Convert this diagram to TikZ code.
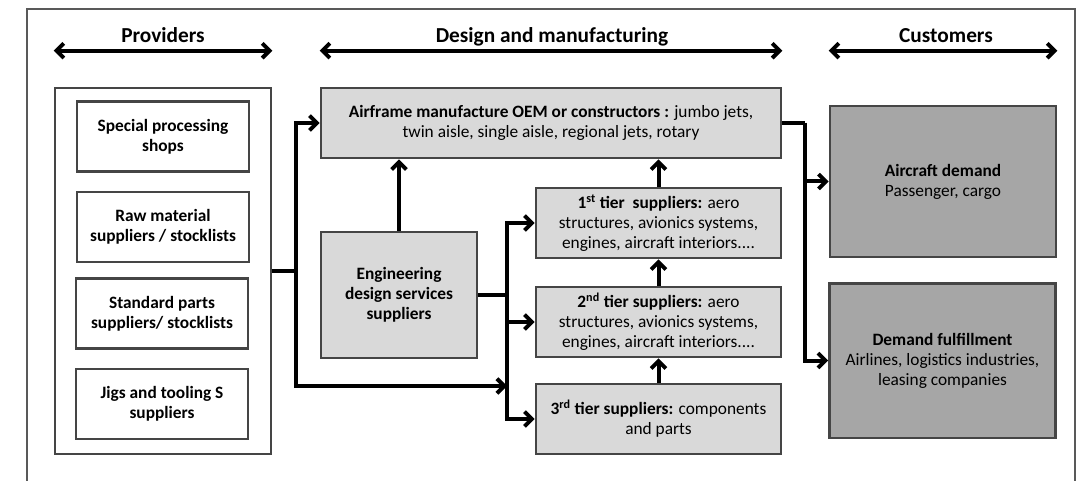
\documentclass[tikz,border=0pt]{standalone}
\usepackage{fontspec}
\setmainfont{Carlito}
\usepackage{tikz}
\usetikzlibrary{positioning}
\usetikzlibrary{arrows.meta}
\definecolor{boxline}{gray}{0.27}
\definecolor{lightbox}{gray}{0.85}
\definecolor{darkbox}{gray}{0.65}
\newcommand{\boxfont}{\fontsize{13}{15}\selectfont}
\tikzstyle{frame}=[draw=black!65,line width=1.5pt]
\tikzstyle{whitebox}=[rectangle,draw=boxline,line width=2pt,fill=white,align=center,font=\boxfont\bfseries,minimum width=129pt,minimum height=52.5pt,inner sep=2pt]
\tikzstyle{greybox}=[rectangle,draw=boxline,line width=2pt,fill=lightbox,align=center,font=\boxfont,minimum height=52.5pt,inner sep=2pt]
\tikzstyle{tierbox}=[greybox,minimum width=183.75pt]
\tikzstyle{custbox}=[greybox,fill=darkbox,minimum width=169.5pt]
\tikzstyle{edge} = [draw,line width=3pt,-{Straight Barb[length=5.5pt,width=11pt]}]
\tikzstyle{link} = [draw,line width=3pt]
\tikzstyle{span} = [draw,line width=3pt,{Straight Barb[length=5.5pt,width=11pt]}-{Straight Barb[length=5.5pt,width=11pt]}]
\tikzstyle{header}=[font=\fontsize{16}{19}\selectfont\bfseries,anchor=base]

\begin{document}
\begin{tikzpicture}[x=0.75pt,y=-0.75pt]

 \useasboundingbox (0,0) rectangle (1089,481);
 \draw[frame] (27,481) -- (27,9) -- (1075,9) -- (1075,481);

 %providers
 \node[rectangle,draw=boxline,line width=2pt,minimum width=162pt,minimum height=274.5pt] (prov) at (163,271) {};

   \foreach \x/\y/\name/\label in {163/136.5/sps/{Special processing\\shops}, 163/227/raw/{Raw material\\suppliers / stocklists},
                                   162/313.5/std/{Standard parts\\suppliers/ stocklists}, 162/404/jig/{Jigs and tooling S\\suppliers}}
          \node[whitebox] (\name) at (\x,\y) {\label};

 %design and manufacturing
 \node[greybox,minimum width=345pt] (oem) at (551,123)
      {\textbf{Airframe manufacture OEM or constructors :} jumbo jets,\\twin aisle, single aisle, regional jets, rotary};
 \node[greybox,font=\boxfont\bfseries,minimum width=117pt,minimum height=94.5pt] (eng) at (399,295)
      {Engineering\\design services\\suppliers};

   \foreach \x/\y/\name/\label in {658.5/223/tier1/{\textbf{1\textsuperscript{st} tier\ \ suppliers:} aero},
                                   658.5/322/tier2/{\textbf{2\textsuperscript{nd} tier suppliers:} aero}}
          \node[tierbox] (\name) at (\x,\y) {\label\\structures, avionics systems,\\engines, aircraft interiors....};
 \node[tierbox] (tier3) at (658.5,419) {\textbf{3\textsuperscript{rd} tier suppliers:} components\\and parts};

 %customers
 \node[custbox,minimum height=113.25pt] (dem) at (943,181.5) {\textbf{Aircraft demand}\\Passenger, cargo};
 \node[custbox,minimum height=116pt] (ful) at (942.5,360.5)
      {\textbf{Demand fulfillment}\\Airlines, logistics industries,\\leasing companies};

 %headers
   \foreach \x/\y/\name/\label in {163/43/hprov/Providers, 552/43/hdes/Design and manufacturing, 946/43/hcus/Customers}
          \node[header] (\name) at (\x,\y) {\label};

 \path[span] ([yshift=27pt]prov.north west) -- ([yshift=27pt]prov.north east);
 \path[span] ([yshift=27pt]oem.north west) -- ([yshift=27pt]oem.north east);
 \path[span] ([yshift=40.5pt]dem.north west) -- ([yshift=40.5pt]dem.north east);

 %connectors
 \coordinate (pj) at (296,271);
 \coordinate (bus) at (507,386);
 \coordinate (ej) at (507,295);
 \coordinate (aj) at (805,123);

 \path[link] (prov.east) -- (pj);
 \path[edge] (pj) |- (oem.west);
 \path[edge] (pj) |- (bus);

 \path[link] (eng.east) -- (ej);
  \foreach \dest in {tier1, tier2, tier3}
         \path[edge] (ej) |- (\dest.west);

 \path[edge] (eng.north) -- (eng.north |- oem.south);
 \path[edge] (tier1.north) -- (tier1.north |- oem.south);
  \foreach \source/ \dest in {tier2/tier1, tier3/tier2}
         \path[edge] (\source.north) -- (\dest.south);

 \path[link] (oem.east) -- (aj);
  \foreach \dest in {dem, ful}
         \path[edge] (aj) |- (\dest.west);

\end{tikzpicture}
\end{document}
